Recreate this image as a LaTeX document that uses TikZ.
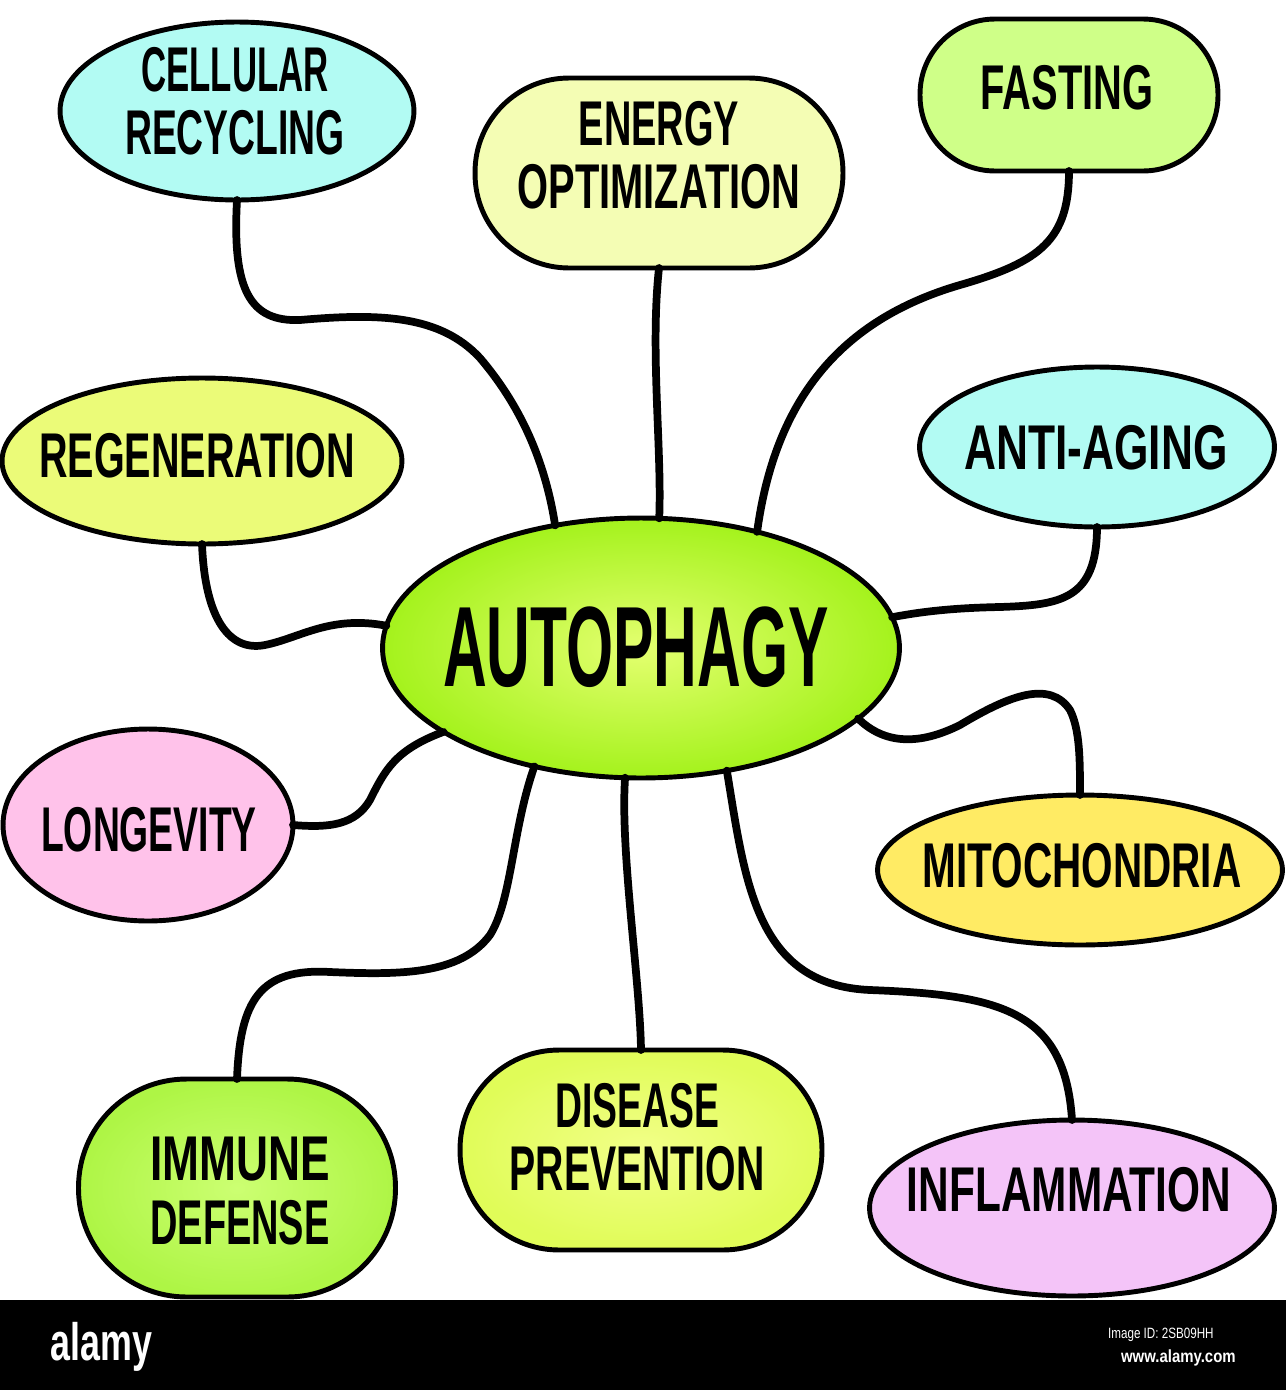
\documentclass[tikz,border=0pt]{standalone}
\usepackage{fontspec}
\usepackage{graphicx}
\setmainfont{Liberation Sans}
\newfontfamily\hand{Liberation Sans}
\usetikzlibrary{shapes.geometric}
\definecolor{cyanfill}{HTML}{B2FBF3}
\definecolor{energyfill}{HTML}{F4FDB4}
\definecolor{fastfill}{HTML}{CFFF88}
\definecolor{regenfill}{HTML}{EBFB78}
\definecolor{longfill}{HTML}{FFC2EA}
\definecolor{mitofill}{HTML}{FFEB64}
\definecolor{inflfill}{HTML}{F4C4F8}
\definecolor{autoin}{HTML}{E4FF70}
\definecolor{autoout}{HTML}{A4F21C}
\definecolor{immin}{HTML}{CCFF72}
\definecolor{immout}{HTML}{AEF545}
\definecolor{disin}{HTML}{F2FF88}
\definecolor{disout}{HTML}{E0FC58}
\newcommand{\sx}[2]{\scalebox{#1}[1]{#2}}
\begin{document}
\begin{tikzpicture}[x=0.02cm,y=-0.02cm,
  bubble/.style={draw=black, line width=2.8pt, inner sep=0pt, outer sep=0pt},
  oval/.style={bubble, ellipse},
  blob/.style={bubble, rectangle, rounded corners=#1},
  link/.style={line width=4.4pt, line cap=round},
  lbl/.style={font=\hand\bfseries\fontsize{36}{36}\selectfont, align=center, inner sep=0pt, text=black}]
\useasboundingbox (0,0) rectangle (1286,1390);
\fill[white] (0,0) rectangle (1286,1390);

% bubbles
\node[oval, fill=cyanfill, minimum width=7.08cm, minimum height=3.56cm] (cell) at (237,111) {};
\node[blob=1.88cm, fill=energyfill, minimum width=7.36cm, minimum height=3.8cm] (energy) at (659,173) {};
\node[blob=1.5cm, fill=fastfill, minimum width=5.96cm, minimum height=3.04cm] (fast) at (1069,95) {};
\node[oval, fill=regenfill, minimum width=8.0cm, minimum height=3.32cm] (regen) at (202,461) {};
\node[oval, fill=cyanfill, minimum width=7.1cm, minimum height=3.2cm] (anti) at (1097,447) {};
\node[oval, inner color=autoin, outer color=autoout, minimum width=10.34cm, minimum height=5.2cm] (auto) at (641,648) {};
\node[oval, fill=longfill, minimum width=5.8cm, minimum height=3.84cm] (long) at (148,825) {};
\node[oval, fill=mitofill, minimum width=8.1cm, minimum height=3.0cm] (mito) at (1080,870) {};
\node[blob=2.16cm, inner color=immin, outer color=immout, minimum width=6.34cm, minimum height=4.36cm] (imm) at (237,1188) {};
\node[blob=1.98cm, inner color=disin, outer color=disout, minimum width=7.24cm, minimum height=4.0cm] (dis) at (641,1150) {};
\node[oval, fill=inflfill, minimum width=8.1cm, minimum height=3.52cm] (infl) at (1072,1208) {};

% connectors
\draw[link] (cell.south) .. controls (232,290) and (250,322) .. (300,320)
   .. controls (380,313) and (440,315) .. (480,358)
   .. controls (520,405) and (545,460) .. (auto.125);
\draw[link] (energy.south) .. controls (650,350) and (662,450) .. (auto.82);
\draw[link] (fast.south) .. controls (1069,240) and (1040,262) .. (960,285)
   .. controls (840,320) and (775,400) .. (auto.45);
\draw[link] (regen.south) .. controls (205,620) and (230,652) .. (265,645)
   .. controls (300,638) and (330,615) .. (auto.175);
\draw[link] (anti.south) .. controls (1097,600) and (1060,605) .. (1000,607)
   .. controls (950,608) and (920,612) .. (auto.7);
\draw[link] (long.east) .. controls (330,828) and (355,825) .. (370,800)
   .. controls (385,770) and (395,750) .. (auto.203);
\draw[link] (auto.-18) .. controls (885,745) and (920,745) .. (960,725)
   .. controls (1010,695) and (1050,680) .. (1070,710)
   .. controls (1080,730) and (1080,760) .. (mito.north);
\draw[link] (auto.-132) .. controls (512,830) and (512,900) .. (490,935)
   .. controls (460,975) and (400,975) .. (330,972)
   .. controls (260,968) and (240,1000) .. (imm.north);
\draw[link] (auto.-97) .. controls (620,850) and (640,980) .. (dis.north);
\draw[link] (auto.-55) .. controls (745,880) and (755,985) .. (870,990)
   .. controls (1000,995) and (1065,1010) .. (infl.north);

% labels
\node[lbl] (tcell) at (235,101) {\sx{.55}{CELLULAR}\\\sx{.59}{RECYCLING}};
\node[lbl] (tenergy) at (659,155) {\sx{.60}{ENERGY}\\\sx{.63}{OPTIMIZATION}};
\node[lbl] (tfast) at (1067,88) {\sx{.63}{FASTING}};
\node[lbl] (tregen) at (197,456) {\sx{.625}{REGENERATION}};
\node[lbl] (tanti) at (1096,448) {\sx{.70}{ANTI-AGING}};
\node[lbl, font=\hand\bfseries\fontsize{65}{65}\selectfont] (tauto) at (636,647) {\sx{.53}{AUTOPHAGY}};
\node[lbl] (tlong) at (149,830) {\sx{.59}{LONGEVITY}};
\node[lbl] (tmito) at (1082,866) {\sx{.64}{MITOCHONDRIA}};
\node[lbl] (timm) at (240,1191) {\sx{.70}{IMMUNE}\\\sx{.60}{DEFENSE}};
\node[lbl] (tdis) at (637,1137) {\sx{.59}{DISEASE}\\\sx{.62}{PREVENTION}};
\node[lbl] (tinfl) at (1069,1190) {\sx{.67}{INFLAMMATION}};

% bottom bar
\fill[black] (0,1300) rectangle (1286,1390);
\node[anchor=base west, inner sep=0pt, text=white, font=\bfseries\fontsize{30}{30}\selectfont] (logo) at (50,1360) {\sx{.68}{alamy}};
\node[anchor=base east, inner sep=0pt, text=white, font=\fontsize{8.5}{8.5}\selectfont] (imgid) at (1214,1338) {\sx{.78}{Image ID: 2SB09HH}};
\node[anchor=base east, inner sep=0pt, text=white, font=\bfseries\fontsize{10}{10}\selectfont] (www) at (1236,1362) {\sx{.85}{www.alamy.com}};
\end{tikzpicture}
\end{document}
